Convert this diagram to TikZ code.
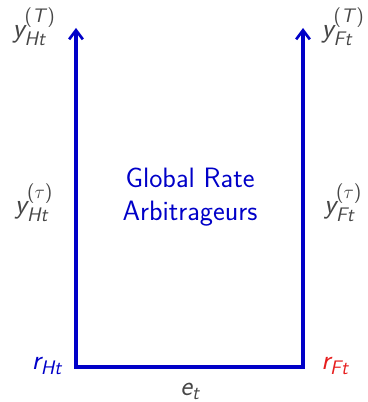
\documentclass[tikz,border=0pt]{standalone}
\usepackage{amsmath}
\usepackage{tikz}
\usetikzlibrary{arrows.meta, positioning}
\definecolor{cBlue}{RGB}{0,0,200}
\definecolor{cRed}{RGB}{230,30,30}
\definecolor{cGray}{RGB}{70,70,70}
\newcommand{\sv}[1]{\textsf{\itshape #1}}
\newcommand{\mat}[1]{\textsf{(}#1\textsf{)}}
\tikzset{
	rate/.style  ={font=\fontsize{21}{25}\selectfont\sffamily, text=cGray},
	axis/.style  ={{Straight Barb[length=2.4mm, width=3.6mm, line width=2pt]}-{Straight Barb[length=2.4mm, width=3.6mm, line width=2pt]}, line width=2.4pt, draw=cBlue},
	agent/.style ={font=\fontsize{21}{25}\selectfont\sffamily, text=cBlue, align=center},
}
\begin{document}
\begin{tikzpicture}[x=0.75pt, y=-0.75pt]
	\useasboundingbox (0,0) rectangle (367,402);
	% corners of the arbitrage loop
	\coordinate (htop) at (76,28);
	\coordinate (hbot) at (76,367);
	\coordinate (fbot) at (303,367);
	\coordinate (ftop) at (303,28);
	\draw[axis] (htop) -- (hbot) -- (fbot) -- (ftop);
	% yields
	\node[rate] (yHT) at (34,27) {$\sv{y}_{\sv{Ht}}^{\mat{\sv{T\/}}}$};
	\node[rate] (yFT) at (343,27) {$\sv{y}_{\sv{Ft}}^{\mat{\sv{T\/}}}$};
	\node[rate] (yHs) at (34,203) {$\sv{y}_{\sv{Ht}}^{\mat{\tau}}$};
	\node[rate] (yFs) at (343,203) {$\sv{y}_{\sv{Ft}}^{\mat{\tau}}$};
	% short rates and exchange rate
	\node[rate, text=cBlue] (rH) at (47,366) {$\sv{r}_{\sv{Ht}}$};
	\node[rate, text=cRed] (rF) at (335,366) {$\sv{r}_{\sv{Ft}}$};
	\node[rate] (et) at (190,391) {$\sv{e}_{\sv{t}}$};
	\node[agent] (arb) at (190,197) {Global Rate\\Arbitrageurs};
\end{tikzpicture}
\end{document}
